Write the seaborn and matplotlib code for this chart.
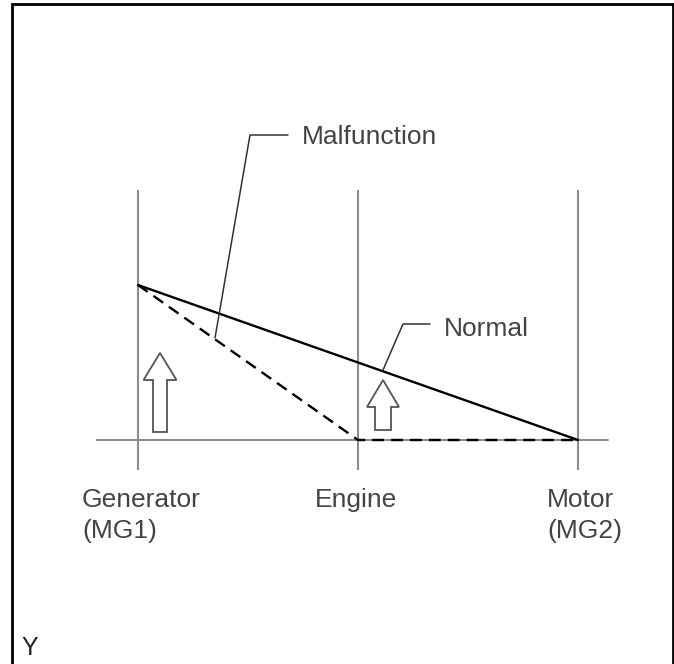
import numpy as np
import pandas as pd
import matplotlib.pyplot as plt
from matplotlib.patches import Polygon, Rectangle
import seaborn as sns

# nomographic chart: relative rotation speed of the three planetary members
members = ['Generator\n(MG1)', 'Engine', 'Motor\n(MG2)']
member_pos = [0, 1, 2]
normal_speed = [1.0, 0.5, 0.0]
malfunction_speed = [1.0, 0.0, 0.0]

sns.set_style('white')
plt.rcParams['font.family'] = ['Liberation Sans', 'DejaVu Sans']

fig = plt.figure(figsize=(6.74, 6.64), dpi=100)
ax = fig.add_axes([0, 0, 1, 1])

# pixel -> data helpers (x: 220 px per member, y: 155 px per unit)
X0, Y0, SX, SY = 138, 440, 220, 155
def dx(p):
    return (p - X0) / SX
def dy(p):
    return (Y0 - p) / SY

ax.set_xlim(dx(0), dx(674))
ax.set_ylim(dy(664), dy(0))
ax.axis('off')

grey = '#8c8c8c'
# member axes and zero line
for x in member_pos:
    ax.plot([x, x], [dy(190), dy(470)], color=grey, lw=1.5, solid_capstyle='butt')
ax.plot([dx(97), dx(608)], [0, 0], color=grey, lw=1.5)

df = pd.DataFrame({
    'pos': member_pos * 2,
    'speed': normal_speed + malfunction_speed,
    'state': ['Normal'] * 3 + ['Malfunction'] * 3,
})
sns.lineplot(data=df[df.state == 'Normal'], x='pos', y='speed', color='black',
             lw=1.7, ax=ax, legend=False)
sns.lineplot(data=df[df.state == 'Malfunction'], x='pos', y='speed', color='black',
             lw=1.7, linestyle=(0, (5, 3)), ax=ax, legend=False)

# hollow arrows
def hollow_arrow(cx, top, head_bot, head_hw, shaft_hw, bottom):
    pts = [(cx, top), (cx + head_hw, head_bot), (cx + shaft_hw, head_bot),
           (cx + shaft_hw, bottom), (cx - shaft_hw, bottom), (cx - shaft_hw, head_bot),
           (cx - head_hw, head_bot)]
    ax.add_patch(Polygon([(dx(a), dy(b)) for a, b in pts], closed=True,
                         fill=False, edgecolor='#555555', lw=1.3))

hollow_arrow(160, 353, 380, 16.5, 7, 432)
hollow_arrow(383, 380, 407, 16, 8, 430)

# leader lines
lead = '#333333'
ax.plot([dx(215), dx(250), dx(288)], [dy(338), dy(135), dy(135)], color=lead, lw=1.1)
ax.plot([dx(383), dx(403), dx(430)], [dy(370), dy(324), dy(324)], color=lead, lw=1.1)

txt = '#444444'
fs = 19
ax.text(dx(302), dy(144), 'Malfunction', fontsize=fs, color=txt, va='baseline', ha='left')
ax.text(dx(444), dy(336), 'Normal', fontsize=fs, color=txt, va='baseline', ha='left')

# member labels, one text per line
label_x = [(82, 'left'), (356, 'center'), (547, 'left')]
for name, (lx, ha) in zip(members, label_x):
    for i, line in enumerate(name.split('\n')):
        ax.text(dx(lx), dy(507 + i * 31), line, fontsize=fs, color=txt,
                va='baseline', ha=ha)

ax.text(dx(21), dy(655), 'Y', fontsize=18, color='#222222', va='baseline', ha='left')

# frame
ax.add_patch(Rectangle((dx(12), dy(680)), dx(673) - dx(12), dy(4) - dy(680),
                       fill=False, edgecolor='black', lw=2, clip_on=False))

fig.savefig('out.png', dpi=100)
